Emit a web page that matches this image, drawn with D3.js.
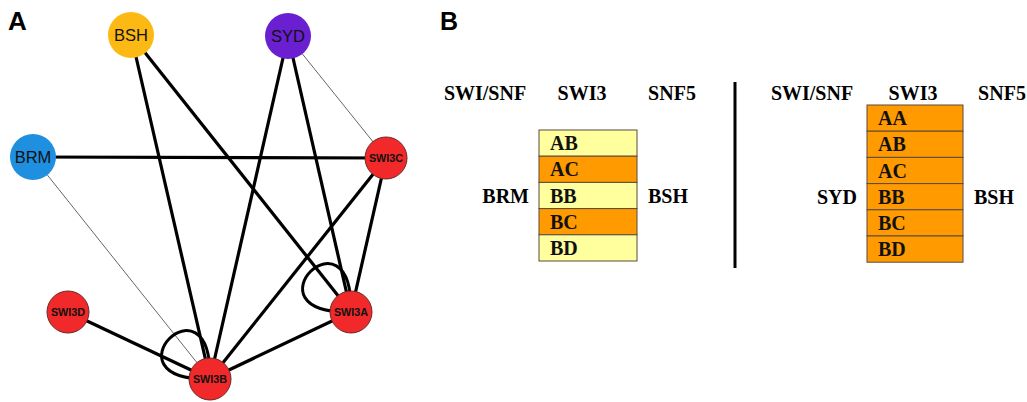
<!DOCTYPE html>
<html>
<head>
<meta charset="utf-8">
<script src="https://cdn.jsdelivr.net/npm/d3@7"></script>
<style>
  body { margin: 0; background: #fff; }
  svg { display: block; }
</style>
</head>
<body>
<div id="chart"></div>
<script>
// network nodes (panel A)
const nodeNames = ["BSH", "SYD", "BRM", "SWI3C", "SWI3D", "SWI3A", "SWI3B"];
const nodeGroups = ["bsh", "syd", "brm", "swi3", "swi3", "swi3", "swi3"];
// interactions: source, target, strong (1) or weak (0)
const edgeSource = ["BSH", "BSH", "SYD", "SYD", "SYD", "BRM", "BRM", "SWI3C", "SWI3C", "SWI3D", "SWI3A"];
const edgeTarget = ["SWI3B", "SWI3A", "SWI3B", "SWI3A", "SWI3C", "SWI3C", "SWI3B", "SWI3B", "SWI3A", "SWI3B", "SWI3B"];
const edgeStrong = [1, 1, 1, 1, 0, 1, 0, 1, 1, 1, 1];
const selfLoops = ["SWI3A", "SWI3B"];

// panel B tables
const headers = ["SWI/SNF", "SWI3", "SNF5"];
const leftRows = ["AB", "AC", "BB", "BC", "BD"];
const leftStrong = [0, 1, 0, 1, 0];
const leftSides = ["BRM", "BSH"];
const rightRows = ["AA", "AB", "AC", "BB", "BC", "BD"];
const rightStrong = [1, 1, 1, 1, 1, 1];
const rightSides = ["SYD", "BSH"];

// layout of the network (drawing positions, px)
const layout = {
  BSH: [131, 35], SYD: [288, 36], BRM: [33, 157], SWI3C: [386, 158],
  SWI3D: [68, 312], SWI3A: [351, 312], SWI3B: [210, 379]
};

const W = 1027, H = 402;
const svg = d3.select("#chart").append("svg").attr("width", W).attr("height", H);

const color = d3.scaleOrdinal()
  .domain(["bsh", "syd", "brm", "swi3"])
  .range(["#fdb913", "#6a1fd0", "#1f8fe0", "#f2292b"]);
const radius = d => d.startsWith("SWI3") ? 21 : 23;

// panel labels
svg.append("text").attr("x", 8).attr("y", 30).text("A")
  .attr("font-family", "Liberation Sans, Arial, sans-serif").attr("font-weight", "bold").attr("font-size", 26);
svg.append("text").attr("x", 440).attr("y", 30).text("B")
  .attr("font-family", "Liberation Sans, Arial, sans-serif").attr("font-weight", "bold").attr("font-size", 25);

// ---- panel A ----
const gA = svg.append("g");
const edges = edgeSource.map((s, i) => ({ s, t: edgeTarget[i], strong: edgeStrong[i] }));

gA.selectAll("line.edge").data(edges).join("line")
  .attr("class", "edge")
  .attr("x1", d => layout[d.s][0]).attr("y1", d => layout[d.s][1])
  .attr("x2", d => layout[d.t][0]).attr("y2", d => layout[d.t][1])
  .attr("stroke", d => d.strong ? "#000" : "#555")
  .attr("stroke-width", d => d.strong ? 3.2 : 0.9);

const loopPath = n => {
  const [x, y] = layout[n];
  const p = d3.path();
  p.moveTo(x, y);
  p.bezierCurveTo(x - 110, y + 2, x + 2, y - 110, x, y);
  return p.toString();
};
gA.selectAll("path.loop").data(selfLoops).join("path")
  .attr("class", "loop").attr("d", loopPath)
  .attr("fill", "none").attr("stroke", "#000").attr("stroke-width", 3);

const nodes = gA.selectAll("g.node").data(nodeNames).join("g")
  .attr("class", "node")
  .attr("transform", d => `translate(${layout[d][0]},${layout[d][1]})`);
nodes.append("circle")
  .attr("r", radius)
  .attr("fill", (d, i) => color(nodeGroups[i]))
  .attr("stroke", (d, i) => nodeGroups[i] === "swi3" ? "#6b2a2a" : "none")
  .attr("stroke-width", 1);
nodes.append("text")
  .attr("text-anchor", "middle")
  .attr("dy", "0.36em")
  .attr("font-family", "Liberation Sans, Arial, sans-serif")
  .attr("font-weight", d => d.startsWith("SWI3") ? "bold" : "normal")
  .attr("font-size", d => d.startsWith("SWI3") ? 10.8 : 16.5)
  .attr("fill", "#111")
  .text(d => d);

// ---- panel B ----
const serif = "Liberation Serif, Times New Roman, serif";
const fill = d3.scaleOrdinal().domain([0, 1]).range(["#ffff9e", "#ff9a00"]);

function drawTable(cx, headerX, rows, strong, sides, top, rowH, boxW) {
  const g = svg.append("g");
  g.selectAll("text.hdr").data(headers).join("text")
    .attr("x", (d, i) => headerX[i]).attr("y", 100)
    .attr("text-anchor", "middle")
    .attr("font-family", serif).attr("font-weight", "bold").attr("font-size", 20)
    .text(d => d);

  const y = d3.scaleBand().domain(rows).range([top, top + rowH * rows.length]);
  const x0 = cx - boxW / 2;
  g.selectAll("rect").data(rows).join("rect")
    .attr("x", x0).attr("y", d => y(d))
    .attr("width", boxW).attr("height", y.bandwidth())
    .attr("fill", (d, i) => fill(strong[i]))
    .attr("stroke", "#5a4a3a").attr("stroke-width", 1);
  g.selectAll("text.row").data(rows).join("text")
    .attr("x", x0 + 11).attr("y", d => y(d) + y.bandwidth() / 2 + 7)
    .attr("font-family", serif).attr("font-weight", "bold").attr("font-size", 20)
    .attr("fill", "#111")
    .text(d => d);

  const midY = y("BB") + y.bandwidth() / 2 + 7;
  g.append("text").attr("x", x0 - 10).attr("y", midY).attr("text-anchor", "end")
    .attr("font-family", serif).attr("font-weight", "bold").attr("font-size", 20).text(sides[0]);
  g.append("text").attr("x", x0 + boxW + 11).attr("y", midY)
    .attr("font-family", serif).attr("font-weight", "bold").attr("font-size", 20).text(sides[1]);
}

drawTable(588, [485, 582, 672], leftRows, leftStrong, leftSides, 130, 26.2, 98);
drawTable(915, [812, 913, 1002], rightRows, rightStrong, rightSides, 105, 26.2, 96);

svg.append("line").attr("x1", 735).attr("x2", 735).attr("y1", 82).attr("y2", 268)
  .attr("stroke", "#000").attr("stroke-width", 3);
</script>
</body>
</html>
